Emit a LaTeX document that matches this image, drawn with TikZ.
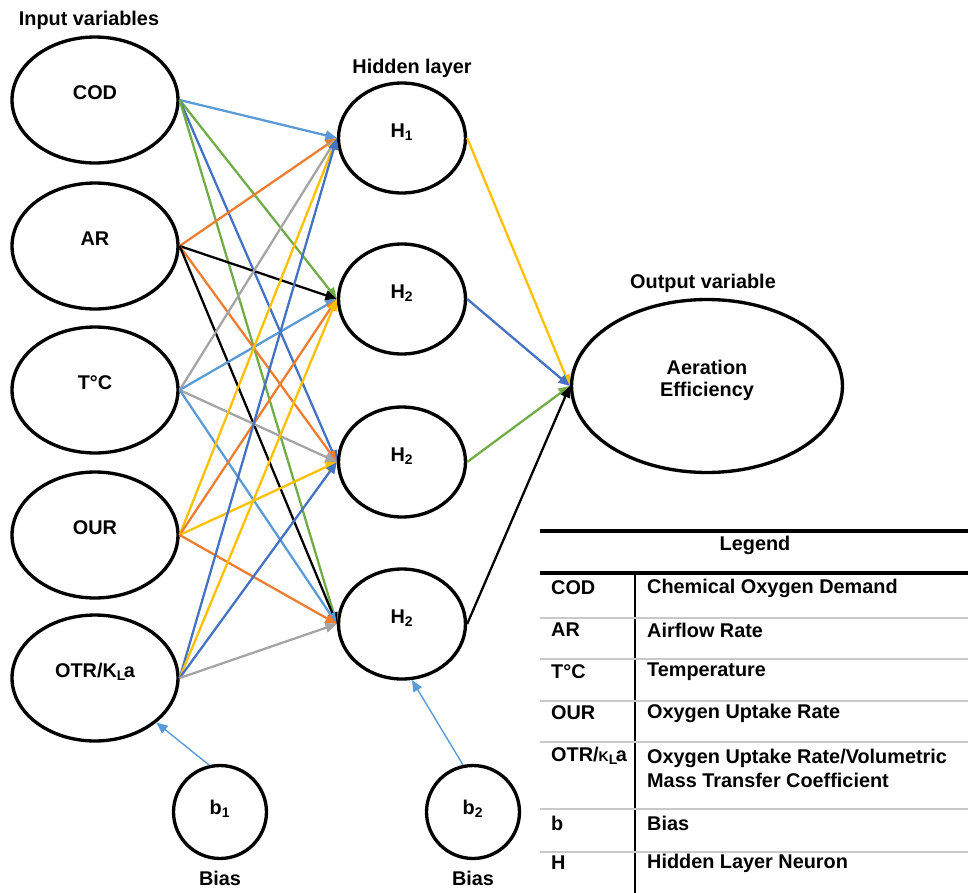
\documentclass[tikz,border=0pt]{standalone}
\usepackage{fontspec}
\setmainfont{Liberation Sans}
\usepackage{xcolor}
\usepackage{tikz}
\usetikzlibrary{shapes.geometric, positioning, arrows.meta, calc}

\definecolor{lblue}{HTML}{5B9BD5}
\definecolor{dblue}{HTML}{4472C4}
\definecolor{orng}{HTML}{ED7D31}
\definecolor{gry}{HTML}{A5A5A5}
\definecolor{yllw}{HTML}{FFC000}
\definecolor{grn}{HTML}{70AD47}

\begin{document}
\begin{tikzpicture}[
        x=0.02cm, y=-0.02cm,
        % Style for the neurons
        neuron/.style={
            draw,
            ellipse,
            line width=1.9pt,
            inner sep=0pt,
            align=center,
            text depth=0.3cm, % lifts the label a little above the centre
            font=\fontsize{11.3pt}{12.6pt}\selectfont\bfseries
        },
        inode/.style={neuron, minimum width=3.32cm, minimum height=2.52cm},
        hnode/.style={neuron, minimum width=2.54cm, minimum height=2.2cm},
        onode/.style={neuron, minimum width=5.42cm, minimum height=3.46cm},
        bnode/.style={neuron, circle, minimum size=1.86cm, text depth=0.2cm},
        heading/.style={font=\fontsize{11.3pt}{12.6pt}\selectfont\bfseries},
        cell/.style={anchor=west, align=left, font=\fontsize{11.3pt}{13.6pt}\selectfont\bfseries},
        link/.style={->, line width=1.3pt},
        biaslink/.style={->, line width=0.8pt, lblue},
        >={Triangle[length=6.5pt, width=5.5pt]}
    ]
    \useasboundingbox (0,0) rectangle (968,893);

    % ==========================================
    % INPUT LAYER
    % ==========================================
    \node[heading] (inlabel) at (89,20) {Input variables};
    \node[inode] (COD) at (95,100) {COD};
    \node[inode] (AR)  at (95,246) {AR};
    \node[inode] (TC)  at (95,390) {T°C};
    \node[inode] (OUR) at (95,535) {OUR};
    \node[inode] (OTR) at (95,678) {OTR/K\textsubscript{L}\kern-0.12em a};

    % ==========================================
    % HIDDEN LAYER
    % ==========================================
    \node[heading] (hidlabel) at (412,68) {Hidden layer};
    \node[hnode] (H1) at (402,138) {H\textsubscript{1}};
    \node[hnode] (H2) at (402,299) {H\textsubscript{2}};
    \node[hnode] (H3) at (402,462) {H\textsubscript{2}};
    \node[hnode] (H4) at (402,624) {H\textsubscript{2}};

    % ==========================================
    % OUTPUT LAYER
    % ==========================================
    \node[heading] (outlabel) at (703,283) {Output variable};
    \node[onode] (AE) at (707,386) {Aeration\\Efficiency};

    % Bias nodes
    \node[bnode] (b1) at (220,812) {b\textsubscript{1}};
    \node[bnode] (b2) at (473,812) {b\textsubscript{2}};
    \node[heading, below=0.1cm of b1] (bias1) {Bias};
    \node[heading, below=0.1cm of b2] (bias2) {Bias};

    % Input to hidden connections
    \draw[link, lblue] (COD.east) -- (H1.west);
    \draw[link, grn]   (COD.east) -- (H2.west);
    \draw[link, dblue] (COD.east) -- (H3.west);
    \draw[link, grn]   (COD.east) -- (H4.west);

    \draw[link, orng]  (AR.east) -- (H1.west);
    \draw[link, black] (AR.east) -- (H2.west);
    \draw[link, orng]  (AR.east) -- (H3.west);
    \draw[link, black] (AR.east) -- (H4.west);

    \draw[link, gry]   (TC.east) -- (H1.west);
    \draw[link, lblue] (TC.east) -- (H2.west);
    \draw[link, gry]   (TC.east) -- (H3.west);
    \draw[link, lblue] (TC.east) -- (H4.west);

    \draw[link, yllw]  (OUR.east) -- (H1.west);
    \draw[link, orng]  (OUR.east) -- (H2.west);
    \draw[link, yllw]  (OUR.east) -- (H3.west);
    \draw[link, orng]  (OUR.east) -- (H4.west);

    \draw[link, dblue] (OTR.east) -- (H1.west);
    \draw[link, yllw]  (OTR.east) -- (H2.west);
    \draw[link, dblue] (OTR.east) -- (H3.west);
    \draw[link, gry]   (OTR.east) -- (H4.west);

    % Hidden to output connections
    \draw[link, yllw]  (H1.east) -- (AE.west);
    \draw[link, dblue] (H2.east) -- (AE.west);
    \draw[link, grn]   (H3.east) -- (AE.west);
    \draw[link, black] (H4.east) -- (AE.west);

    % Bias connections
    \draw[biaslink] (b1.103) -- (OTR.-36);
    \draw[biaslink] (b2.102) -- (H4.-80);

    % ==========================================
    % LEGEND TABLE
    % ==========================================
    \draw[line width=1.8pt] (540,531) -- (968,531);
    \node[heading] (legtitle) at (755,545) {Legend};
    \draw[line width=1.8pt] (540,573) -- (968,573);
    \draw[line width=1.3pt] (635,573) -- (635,893);

    % Row separators
    \draw[gry!60, line width=0.8pt] (540,618) -- (968,618);
    \draw[gry!60, line width=0.8pt] (540,659) -- (968,659);
    \draw[gry!60, line width=0.8pt] (540,701) -- (968,701);
    \draw[gry!60, line width=0.8pt] (540,742) -- (968,742);
    \draw[gry!60, line width=0.8pt] (540,809) -- (968,809);
    \draw[gry!60, line width=0.8pt] (540,852) -- (968,852);

    % Row entries
    \node[cell] (k1) at (545,588) {COD};
    \node[cell] (v1) at (641,588) {Chemical Oxygen Demand};
    \node[cell] (k2) at (545,630) {AR};
    \node[cell] (v2) at (641,630) {Airflow Rate};
    \node[cell] (k3) at (545,672) {T°C};
    \node[cell] (v3) at (641,672) {Temperature};
    \node[cell] (k4) at (545,713) {OUR};
    \node[cell] (v4) at (641,713) {Oxygen Uptake Rate};
    \node[cell] (k5) at (545,756) {OTR/{\footnotesize K}\textsubscript{L}\kern-0.12em a};
    \node[cell] (v5) at (641,768) {Oxygen Uptake Rate/Volumetric\\Mass Transfer Coefficient};
    \node[cell] (k6) at (545,823) {b};
    \node[cell] (v6) at (641,823) {Bias};
    \node[cell] (k7) at (545,863) {H};
    \node[cell] (v7) at (641,863) {Hidden Layer Neuron};

\end{tikzpicture}
\end{document}
